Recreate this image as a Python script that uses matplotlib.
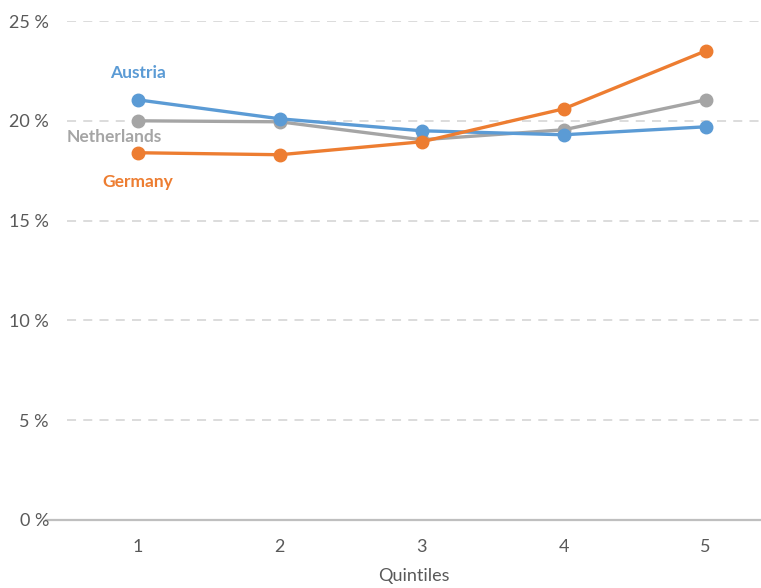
import numpy as np
import matplotlib.pyplot as plt
from matplotlib.ticker import FuncFormatter

plt.rcParams['font.family'] = ['Lato', 'DejaVu Sans']

# data (share in %)
quintiles = [1, 2, 3, 4, 5]
austria = [21.05, 20.1, 19.5, 19.3, 19.7]
netherlands = [20.0, 19.95, 19.05, 19.55, 21.05]
germany = [18.4, 18.3, 18.95, 20.6, 23.5]

blue = '#5B9BD5'
orange = '#ED7D31'
gray = '#A5A5A5'

fig = plt.figure(figsize=(7.61, 5.88), dpi=100)
ax = fig.add_axes([67/761, 68/588, 694/761, 499/588])

# series: draw order so orange sits on top like the reference
ax.plot(quintiles, netherlands, '-o', color=gray, lw=2.4, ms=9, zorder=3)
ax.plot(quintiles, austria, '-o', color=blue, lw=2.4, ms=9, zorder=4)
ax.plot(quintiles, germany, '-o', color=orange, lw=2.4, ms=9, zorder=5)

# inline series labels
ax.text(1, 22.4, 'Austria', color=blue, fontsize=12.5, fontweight='bold', ha='center', va='center')
ax.text(0.83, 19.2, 'Netherlands', color=gray, fontsize=12.5, fontweight='bold', ha='center', va='center')
ax.text(1, 16.95, 'Germany', color=orange, fontsize=12.5, fontweight='bold', ha='center', va='center')

ax.set_xlim(0.5, 5.39)
ax.set_ylim(0, 25)
ax.set_xticks(quintiles)
ax.set_yticks([0, 5, 10, 15, 20, 25])
ax.yaxis.set_major_formatter(FuncFormatter(lambda v, p: '%d %%' % v))

# dashed horizontal gridlines, solid baseline (baseline runs a bit further left)
for v in [5, 10, 15, 20, 25]:
    ax.axhline(v, color='#D9D9D9', lw=1.3, ls=(0, (5, 4)), zorder=1)
ax.plot([0.352, 5.39], [0, 0], color='#BFBFBF', lw=1.6, zorder=1, clip_on=False)

for s in ax.spines.values():
    s.set_visible(False)
ax.tick_params(length=0, labelsize=13, colors='#595959')
ax.tick_params(axis='y', pad=13)
ax.tick_params(axis='x', pad=14)
ax.set_xlabel('Quintiles', fontsize=13, color='#595959', labelpad=9)

fig.savefig('out.png', dpi=100)
